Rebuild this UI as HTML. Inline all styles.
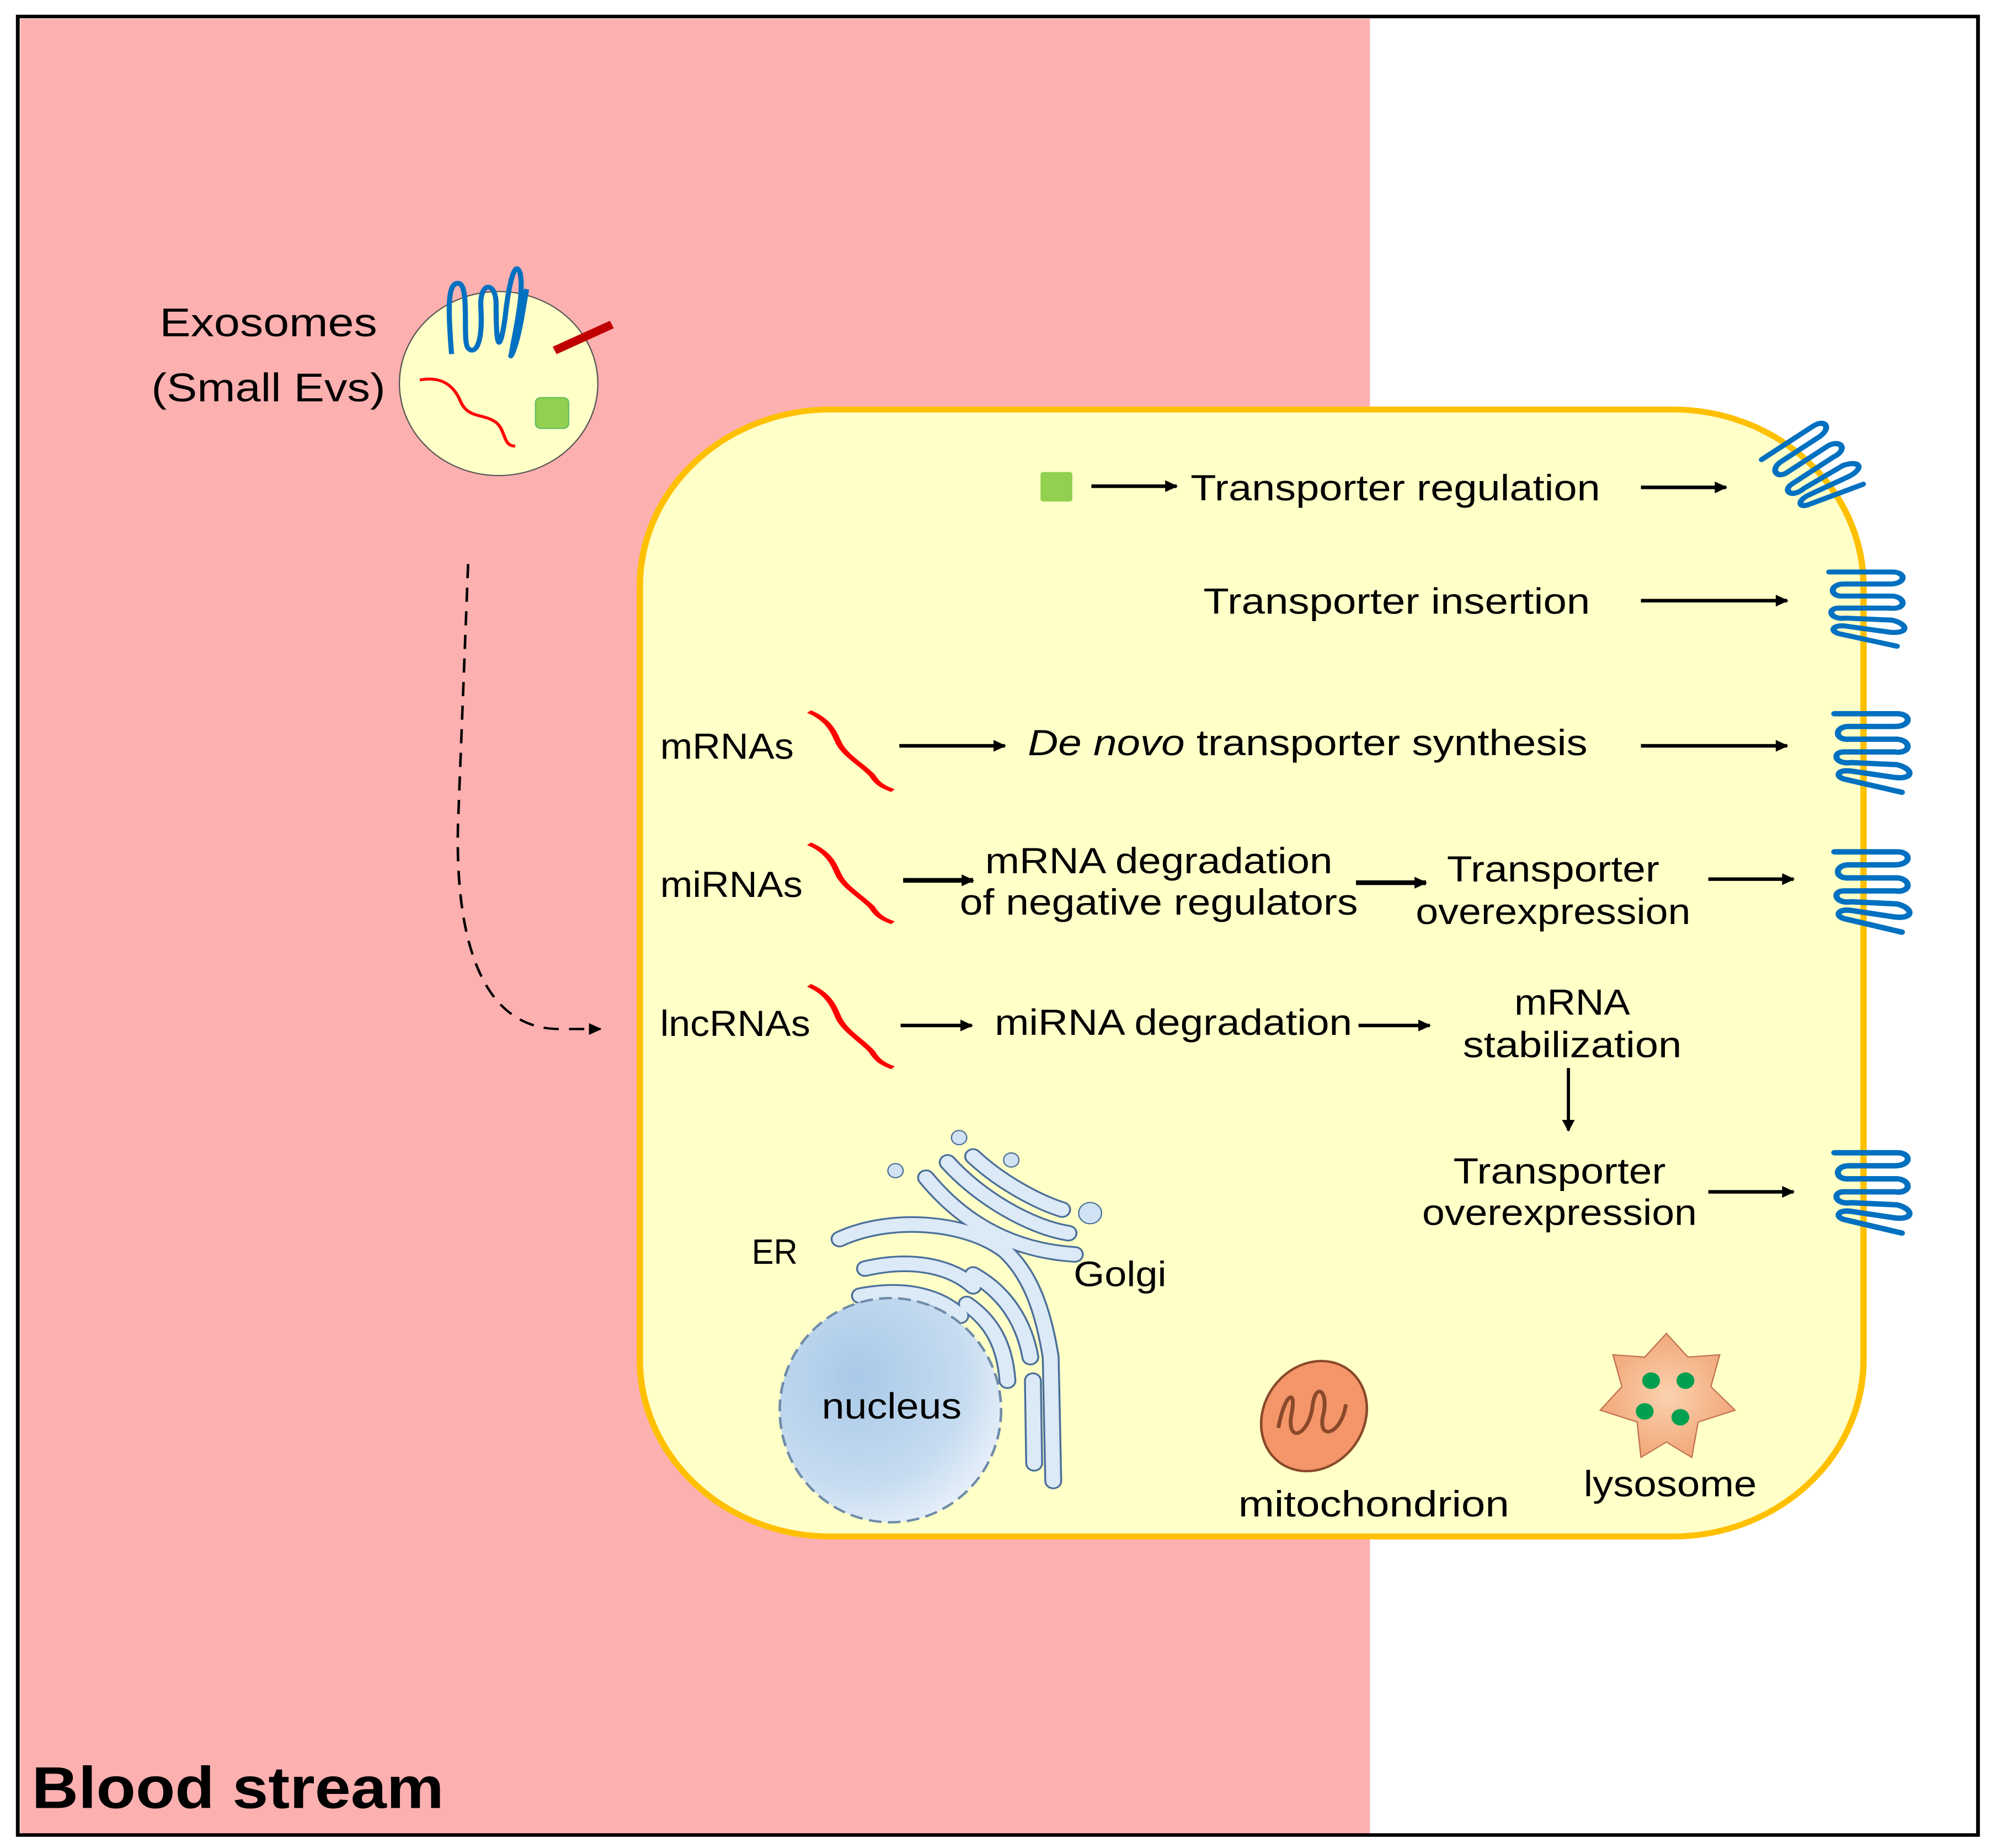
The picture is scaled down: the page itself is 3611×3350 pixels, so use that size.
<!DOCTYPE html>
<html><head><meta charset="utf-8"><style>
html,body{margin:0;padding:0;background:#fff;}
svg{display:block;}
text{font-family:"Liberation Sans",sans-serif;fill:#000;}
</style></head><body>
<svg width="3611" height="3350" viewBox="0 0 1566 1566" preserveAspectRatio="none" xmlns="http://www.w3.org/2000/svg">
<defs>
<marker id="ah" markerWidth="10" markerHeight="10" refX="9" refY="5" orient="auto" markerUnits="userSpaceOnUse"><path d="M0,0 L10,5 L0,10 z" fill="#000"/></marker>
<radialGradient id="nuc" cx="0.35" cy="0.35" r="0.8"><stop offset="0" stop-color="#a9c9e8"/><stop offset="0.6" stop-color="#c5dbf0"/><stop offset="1" stop-color="#f2f7fc"/></radialGradient>
<radialGradient id="lys" cx="0.5" cy="0.5" r="0.6"><stop offset="0" stop-color="#fbd2b0"/><stop offset="1" stop-color="#f0a070"/></radialGradient>
<g id="rec">
<path d="M0,2 L52,2 C64,2 64,14 50,14 L12,14 C0,14 0,27 12,26 L52,26 C64,27 64,40 50,38 L8,38 C-2,38 0,50 14,48 L52,50 C66,54 66,64 50,62 L14,56 C2,54 0,62 10,64 L56,76" fill="none" stroke="#0070c0" stroke-width="5" stroke-linecap="round" stroke-linejoin="round"/>
</g>
<path id="sq" d="M0,0 C10,8 12,20 14,28 C17,40 25,48 30,58 C32,64 34,68 40,72" fill="none" stroke="#ff0000" stroke-width="3"/>
</defs>
<rect x="16" y="16" width="1061" height="1538" fill="#fdb0b0"/>
<rect x="14" y="14" width="1541" height="1541" fill="none" stroke="#000" stroke-width="3"/>

<!-- Exosome -->
<text x="211" y="285" font-size="34" text-anchor="middle" textLength="171" lengthAdjust="spacingAndGlyphs">Exosomes</text>
<text x="211" y="340" font-size="34" text-anchor="middle" textLength="184" lengthAdjust="spacingAndGlyphs">(Small Evs)</text>
<circle cx="392" cy="325" r="78" fill="#ffffc8" stroke="#555" stroke-width="1"/>
<path d="M355,300 C352,260 352,240 360,240 C370,240 363,290 368,295 C372,300 380,296 378,260 C377,238 390,238 390,258 C390,290 392,305 397,270 C400,240 405,218 409,232 C412,250 405,280 402,300 C400,305 405,300 410,270 L414,245" fill="none" stroke="#0070c0" stroke-width="4" stroke-linejoin="round"/>
<line x1="436" y1="297" x2="481" y2="275" stroke="#c00000" stroke-width="7"/>
<path d="M330,322 C350,318 358,330 362,340 C368,355 380,350 390,358 C398,365 395,378 405,378" fill="none" stroke="#ff0000" stroke-width="2.5"/>
<rect x="421" y="337" width="26" height="26" rx="4" fill="#92d050" stroke="#5fbf5f" stroke-width="1"/>

<!-- dashed path -->
<path d="M368,478 L360,700 C358,800 380,872 440,872 L472,872" fill="none" stroke="#000" stroke-width="2" stroke-dasharray="12,8" marker-end="url(#ah)"/>

<!-- Cell -->
<rect x="503" y="347" width="962" height="955" rx="150" ry="150" fill="#ffffc8" stroke="#ffc000" stroke-width="5"/>

<!-- Row 1 -->
<rect x="818" y="400" width="25" height="25" rx="2" fill="#92d050"/>
<line x1="858" y1="412" x2="925" y2="412" stroke="#000" stroke-width="3" marker-end="url(#ah)"/>
<text x="936" y="424" font-size="31" textLength="322" lengthAdjust="spacingAndGlyphs">Transporter regulation</text>
<line x1="1290" y1="413" x2="1357" y2="413" stroke="#000" stroke-width="3" marker-end="url(#ah)"/>
<g transform="translate(1384,388) rotate(-35) scale(0.95,0.85)"><use href="#rec"/></g>

<!-- Row 2 -->
<text x="946" y="520" font-size="31" textLength="304" lengthAdjust="spacingAndGlyphs">Transporter insertion</text>
<line x1="1290" y1="509" x2="1405" y2="509" stroke="#000" stroke-width="3" marker-end="url(#ah)"/>
<g transform="translate(1438,483) scale(0.95,0.85)"><use href="#rec"/></g>

<!-- Row 3 -->
<text x="519" y="643" font-size="31" textLength="105" lengthAdjust="spacingAndGlyphs">mRNAs</text>
<g transform="translate(636,603) scale(1.65,0.93)"><use href="#sq"/></g>
<line x1="707" y1="632" x2="790" y2="632" stroke="#000" stroke-width="3" marker-end="url(#ah)"/>
<text x="808" y="640" font-size="31" textLength="440" lengthAdjust="spacingAndGlyphs"><tspan font-style="italic">De novo</tspan> transporter  synthesis</text>
<line x1="1290" y1="632" x2="1405" y2="632" stroke="#000" stroke-width="3" marker-end="url(#ah)"/>
<g transform="translate(1442,603) scale(0.95,0.9)"><use href="#rec"/></g>

<!-- Row 4 -->
<text x="519" y="760" font-size="31" textLength="112" lengthAdjust="spacingAndGlyphs">miRNAs</text>
<g transform="translate(636,715) scale(1.65,0.93)"><use href="#sq"/></g>
<line x1="710" y1="746" x2="765" y2="746" stroke="#000" stroke-width="4" marker-end="url(#ah)"/>
<text x="911" y="740" font-size="31" text-anchor="middle" textLength="273" lengthAdjust="spacingAndGlyphs">mRNA degradation</text>
<text x="911" y="775" font-size="31" text-anchor="middle" textLength="313" lengthAdjust="spacingAndGlyphs">of negative regulators</text>
<line x1="1066" y1="748" x2="1121" y2="748" stroke="#000" stroke-width="4" marker-end="url(#ah)"/>
<text x="1221" y="747" font-size="31" text-anchor="middle" textLength="167" lengthAdjust="spacingAndGlyphs">Transporter</text>
<text x="1221" y="783" font-size="31" text-anchor="middle" textLength="216" lengthAdjust="spacingAndGlyphs">overexpression</text>
<line x1="1343" y1="745" x2="1410" y2="745" stroke="#000" stroke-width="3" marker-end="url(#ah)"/>
<g transform="translate(1442,720) scale(0.95,0.92)"><use href="#rec"/></g>

<!-- Row 5 -->
<text x="519" y="878" font-size="31" textLength="118" lengthAdjust="spacingAndGlyphs">lncRNAs</text>
<g transform="translate(636,835) scale(1.65,0.97)"><use href="#sq"/></g>
<line x1="708" y1="869" x2="764" y2="869" stroke="#000" stroke-width="3" marker-end="url(#ah)"/>
<text x="782" y="877" font-size="31" textLength="281" lengthAdjust="spacingAndGlyphs">miRNA degradation</text>
<line x1="1068" y1="869" x2="1124" y2="869" stroke="#000" stroke-width="3" marker-end="url(#ah)"/>
<text x="1236" y="860" font-size="31" text-anchor="middle" textLength="91" lengthAdjust="spacingAndGlyphs">mRNA</text>
<text x="1236" y="896" font-size="31" text-anchor="middle" textLength="172" lengthAdjust="spacingAndGlyphs">stabilization</text>
<line x1="1233" y1="905" x2="1233" y2="958" stroke="#000" stroke-width="2.5" marker-end="url(#ah)"/>
<text x="1226" y="1003" font-size="31" text-anchor="middle" textLength="167" lengthAdjust="spacingAndGlyphs">Transporter</text>
<text x="1226" y="1038" font-size="31" text-anchor="middle" textLength="216" lengthAdjust="spacingAndGlyphs">overexpression</text>
<line x1="1343" y1="1010" x2="1410" y2="1010" stroke="#000" stroke-width="3" marker-end="url(#ah)"/>
<g transform="translate(1442,975) scale(0.95,0.92)"><use href="#rec"/></g>

<!-- ER / Golgi -->
<g fill="none" stroke-linecap="round">
<g stroke="#4a6f9a" stroke-width="14">
<path d="M660,1050 C700,1030 760,1035 790,1060 C810,1080 820,1110 826,1150 L828,1255"/>
<path d="M680,1075 C720,1065 750,1075 765,1090"/>
<path d="M676,1098 C715,1090 740,1100 755,1115"/>
<path d="M765,1080 C790,1095 805,1120 810,1150"/>
<path d="M760,1105 C780,1120 790,1140 792,1170"/>
<path d="M812,1170 L813,1240"/>
<path d="M728,998 C760,1040 800,1060 845,1063"/>
<path d="M745,985 C770,1015 810,1040 840,1045"/>
<path d="M765,980 C790,1005 820,1020 835,1025"/>
</g>
<g stroke="#dce9f6" stroke-width="11">
<path d="M660,1050 C700,1030 760,1035 790,1060 C810,1080 820,1110 826,1150 L828,1255"/>
<path d="M680,1075 C720,1065 750,1075 765,1090"/>
<path d="M676,1098 C715,1090 740,1100 755,1115"/>
<path d="M765,1080 C790,1095 805,1120 810,1150"/>
<path d="M760,1105 C780,1120 790,1140 792,1170"/>
<path d="M812,1170 L813,1240"/>
<path d="M728,998 C760,1040 800,1060 845,1063"/>
<path d="M745,985 C770,1015 810,1040 840,1045"/>
<path d="M765,980 C790,1005 820,1020 835,1025"/>
</g>
</g>
<g fill="#d0e2f3" stroke="#4a6f9a" stroke-width="1">
<circle cx="704" cy="992" r="6"/><circle cx="754" cy="964" r="6"/><circle cx="795" cy="983" r="6"/><circle cx="857" cy="1028" r="9"/>
</g>
<text x="591" y="1071" font-size="30" textLength="36" lengthAdjust="spacingAndGlyphs">ER</text>
<text x="844" y="1090" font-size="30" textLength="73" lengthAdjust="spacingAndGlyphs">Golgi</text>
<ellipse cx="700" cy="1195" rx="87" ry="95" fill="url(#nuc)" stroke="#6f8ca8" stroke-width="2" stroke-dasharray="10,5"/>
<text x="701" y="1202" font-size="31" text-anchor="middle" textLength="110" lengthAdjust="spacingAndGlyphs">nucleus</text>

<!-- mitochondrion -->
<ellipse cx="1033" cy="1200" rx="40" ry="48" transform="rotate(25 1033 1200)" fill="#f4956a" stroke="#8a4a2a" stroke-width="2"/>
<path d="M1005,1210 C1010,1180 1020,1175 1015,1200 C1012,1225 1030,1215 1032,1190 C1035,1170 1045,1180 1040,1200 C1036,1222 1055,1215 1058,1190" fill="none" stroke="#8a4a2a" stroke-width="3"/>
<text x="1080" y="1285" font-size="31" text-anchor="middle" textLength="213" lengthAdjust="spacingAndGlyphs">mitochondrion</text>

<!-- lysosome -->
<polygon points="1310,1130 1327,1150 1352,1148 1345,1175 1364,1195 1335,1205 1330,1235 1310,1222 1290,1235 1287,1205 1258,1195 1275,1175 1268,1148 1293,1150" fill="url(#lys)" stroke="#c07050" stroke-width="1"/>
<g fill="#00a050"><circle cx="1298" cy="1170" r="7"/><circle cx="1325" cy="1170" r="7"/><circle cx="1293" cy="1196" r="7"/><circle cx="1321" cy="1201" r="7"/></g>
<text x="1313" y="1268" font-size="31" text-anchor="middle" textLength="136" lengthAdjust="spacingAndGlyphs">lysosome</text>

<text x="25" y="1532" font-size="50" font-weight="bold" textLength="324" lengthAdjust="spacingAndGlyphs">Blood stream</text>
</svg>
</body></html>
